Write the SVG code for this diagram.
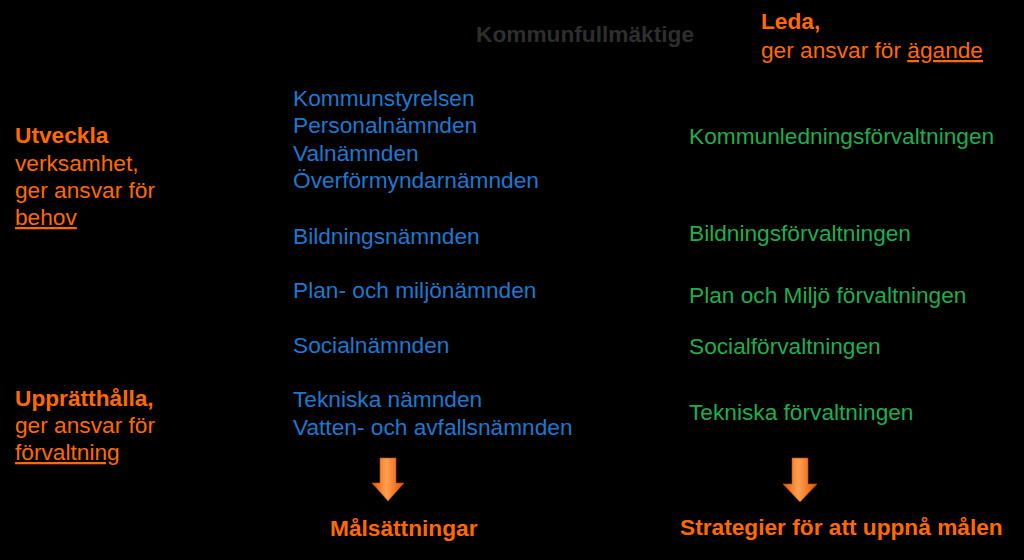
<svg xmlns="http://www.w3.org/2000/svg" width="1024" height="560" viewBox="0 0 1024 560">
<defs>
<style>
text{font-family:"Liberation Sans",Arial,sans-serif;font-size:22.7px}
.o{fill:#ff6a00}
.b{fill:#1c79cf}
.g{fill:#1fae4e}
.k{fill:#2e2e2e}
.bold{font-weight:bold}
.u{text-decoration:underline}
.arr{fill:url(#ag);stroke:#c84a00;stroke-width:0.6}
.hl{fill:#ffb070;opacity:0.55}
</style>
<linearGradient id="ag" x1="0" y1="0" x2="1" y2="0">
<stop offset="0" stop-color="#e85a00"/>
<stop offset="0.45" stop-color="#ffa050"/>
<stop offset="1" stop-color="#e05200"/>
</linearGradient>
</defs>
<rect width="1024" height="560" fill="#000"/>
<g id="kommunfullmaktige"><text class="k bold" x="476" y="42">Kommunfullmäktige</text></g>
<g id="leda"><text class="o bold" x="761" y="29">Leda,</text><text class="o" x="761" y="58">ger ansvar för <tspan class="u">ägande</tspan></text></g>
<g id="utveckla"><text class="o bold" x="15" y="143">Utveckla</text><text class="o" x="15" y="171">verksamhet,</text><text class="o" x="15" y="198">ger ansvar för</text><text class="o u" x="15" y="225">behov</text></g>
<g id="uppratthalla"><text class="o bold" x="15" y="406">Upprätthålla,</text><text class="o" x="15" y="433">ger ansvar för</text><text class="o u" x="15" y="460">förvaltning</text></g>
<g id="namnder">
<text class="b" x="293" y="106">Kommunstyrelsen</text>
<text class="b" x="293" y="133">Personalnämnden</text>
<text class="b" x="293" y="161">Valnämnden</text>
<text class="b" x="293" y="188">Överförmyndarnämnden</text>
<text class="b" x="293" y="244">Bildningsnämnden</text>
<text class="b" x="293" y="298">Plan- och miljönämnden</text>
<text class="b" x="293" y="353">Socialnämnden</text>
<text class="b" x="293" y="407">Tekniska nämnden</text>
<text class="b" x="293" y="435">Vatten- och avfallsnämnden</text>
</g>
<g id="forvaltningar">
<text class="g" x="689" y="144">Kommunledningsförvaltningen</text>
<text class="g" x="689" y="241">Bildningsförvaltningen</text>
<text class="g" x="689" y="303">Plan och Miljö förvaltningen</text>
<text class="g" x="689" y="354">Socialförvaltningen</text>
<text class="g" x="689" y="420">Tekniska förvaltningen</text>
</g>
<g id="connectors">
<path class="arr" d="M380,458 H396 V483 H404 L388,501 L372,483 H380 Z"/>
<path class="arr" d="M792,458 H808 V484 H817 L800,502 L783,484 H792 Z"/>
</g>
<g id="malsattningar"><text class="o bold" x="330" y="536">Målsättningar</text></g>
<g id="strategier"><text class="o bold" x="680" y="535">Strategier för att uppnå målen</text></g>
</svg>
